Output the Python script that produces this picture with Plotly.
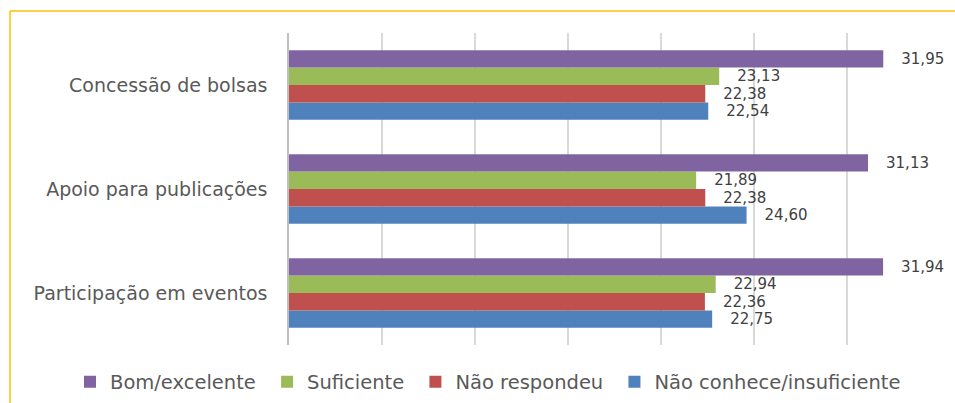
import plotly.graph_objects as go

categories = ["Participação em eventos", "Apoio para publicações", "Concessão de bolsas"]
series_names = ["Não conhece/insuficiente", "Não respondeu", "Suficiente", "Bom/excelente"]
nao_conhece = [22.75, 24.60, 22.54]
nao_respondeu = [22.36, 22.38, 22.38]
suficiente = [22.94, 21.89, 23.13]
bom_excelente = [31.94, 31.13, 31.95]
colors = ["#4F81BD", "#C0504D", "#9BBB59", "#8064A2"]

values = [nao_conhece, nao_respondeu, suficiente, bom_excelente]

W, H = 955, 403
# plot area in page pixels: x 289..940, y 33..345
L, T = 289, 33
R, B = W - 940, H - 345
pw, ph = W - L - R, H - T - B

def px2x(px):
    return (px - L) / pw

def py2y(py):
    return (H - B - py) / ph

fig = go.Figure()
for name, vals, col in zip(series_names, values, colors):
    fig.add_trace(go.Bar(
        y=categories, x=vals, name=name + "\u00a0", orientation="h",
        marker=dict(color=col, line=dict(width=0)),
        text=vals, texttemplate="\u2002\u2002%{x:.2f}", textposition="outside",
        constraintext="none",
        textfont=dict(family="DejaVu Sans", size=15, color="#404040"),
        cliponaxis=False,
    ))

fig.update_layout(
    width=W, height=H,
    margin=dict(l=L, r=R, t=T, b=B, autoexpand=False),
    barmode="group", bargap=0.33, bargroupgap=0,
    separators=",.",
    plot_bgcolor="white", paper_bgcolor="white",
    font=dict(family="DejaVu Sans", size=18, color="#595959"),
    xaxis=dict(range=[0, 35], dtick=5, showticklabels=False, showgrid=True,
               gridcolor="#D9D9D9", gridwidth=1.5, zeroline=False, showline=False),
    yaxis=dict(categoryorder="array", categoryarray=categories, showline=True,
               linecolor="#BFBFBF", linewidth=1.5, ticks="", ticklabelstandoff=16,
               tickfont=dict(size=19, color="#595959")),
    legend=dict(orientation="h", traceorder="reversed", x=px2x(70), xanchor="left",
                y=py2y(382), yanchor="middle", font=dict(size=19.5, color="#595959"),
                itemclick=False),
    showlegend=True,
    shapes=[
        dict(type="line", xref="paper", yref="paper", x0=px2x(10), x1=px2x(960),
             y0=py2y(11), y1=py2y(11), line=dict(color="#FFC000", width=1.5)),
        dict(type="line", xref="paper", yref="paper", x0=px2x(10), x1=px2x(10),
             y0=py2y(11), y1=py2y(410), line=dict(color="#FFC000", width=1.5)),
    ],
)

fig.write_html("out.html", config={"displayModeBar": False},
               post_script="document.body.style.margin='0';")
